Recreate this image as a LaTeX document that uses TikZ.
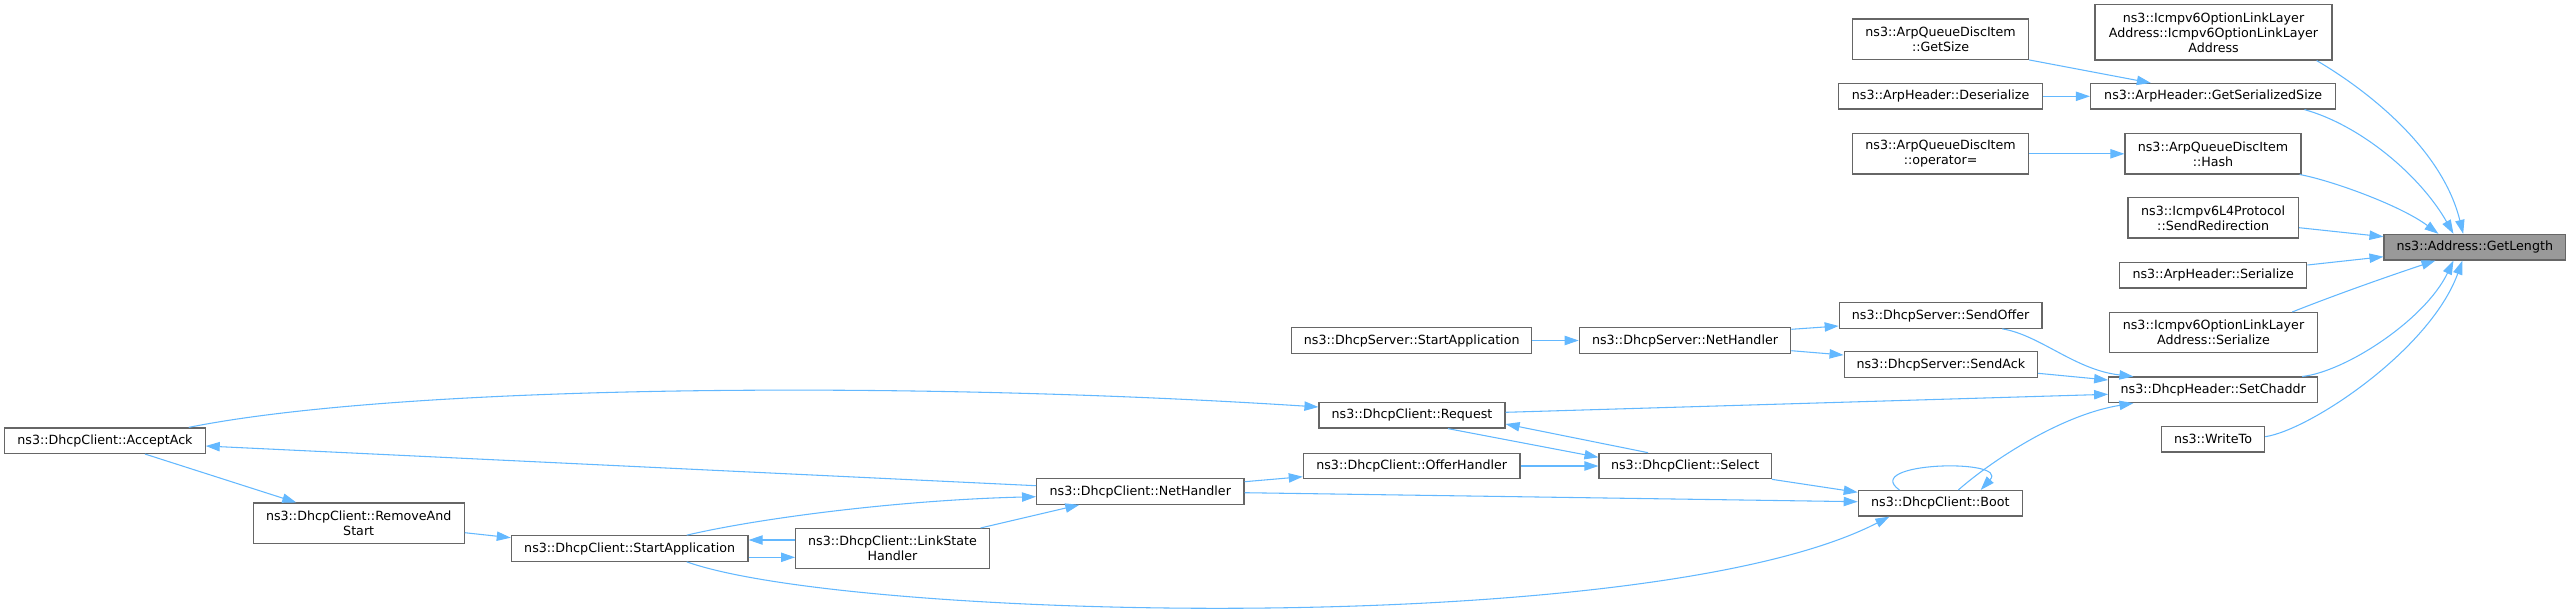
\documentclass[tikz,border=0pt]{standalone}
\usepackage{fontspec}
\setmainfont{DejaVu Sans}
\usetikzlibrary{arrows.meta,calc}
\definecolor{edgeblue}{HTML}{63B8FF}
\definecolor{nodeborder}{HTML}{666666}
\definecolor{nodegray}{HTML}{999999}
\begin{document}
\begin{tikzpicture}[x=0.75pt,y=-0.75pt,
  box/.style={draw=nodeborder,line width=0.9pt,fill=white,inner sep=0pt,align=center,
    font=\fontsize{9.5}{11.25}\selectfont,text=black},
  one/.style={box,minimum height=19.1pt},
  two/.style={box,minimum height=30.2pt},
  three/.style={box,minimum height=41.5pt},
  e/.style={draw=edgeblue,line width=0.8pt,-{Triangle[length=10.5pt,width=7pt]}}]
\useasboundingbox (0,0) rectangle (2567,611);
% nodes
\node[one,fill=nodegray,minimum width=136.1pt] (getlen) at (2474.8,247.2) {ns3::Address::GetLength};
\node[three,minimum width=177.75pt] (ctor) at (2213.5,32.3) {ns3::Icmpv6OptionLinkLayer\\Address::Icmpv6OptionLinkLayer\\Address};
\node[two,minimum width=132pt] (getsize) at (1940.6,39.2) {ns3::ArpQueueDiscItem\\::GetSize};
\node[one,minimum width=152.7pt] (deser) at (1940.6,96.3) {ns3::ArpHeader::Deserialize};
\node[one,minimum width=184pt] (gss) at (2213.2,96.3) {ns3::ArpHeader::GetSerializedSize};
\node[two,minimum width=132pt] (opeq) at (1940.6,153.8) {ns3::ArpQueueDiscItem\\::operator=};
\node[two,minimum width=132pt] (hash) at (2213,153.8) {ns3::ArpQueueDiscItem\\::Hash};
\node[two,minimum width=127.9pt] (sendredir) at (2213.2,217.8) {ns3::Icmpv6L4Protocol\\::SendRedirection};
\node[one,minimum width=140.5pt] (ahser) at (2213.2,275.3) {ns3::ArpHeader::Serialize};
\node[two,minimum width=155.6pt] (icser) at (2213.5,332.7) {ns3::Icmpv6OptionLinkLayer\\Address::Serialize};
\node[one,minimum width=156.75pt] (setch) at (2213.2,389.8) {ns3::DhcpHeader::SetChaddr};
\node[one,minimum width=77.4pt] (writeto) at (2213,439.2) {ns3::WriteTo};
\node[one,minimum width=152pt] (sendoffer) at (1940.6,315.5) {ns3::DhcpServer::SendOffer};
\node[one,minimum width=145pt] (sendack) at (1940.8,364.5) {ns3::DhcpServer::SendAck};
\node[one,minimum width=123pt] (boot) at (1940.3,503.3) {ns3::DhcpClient::Boot};
\node[one,minimum width=158.55pt] (snet) at (1685,340.5) {ns3::DhcpServer::NetHandler};
\node[one,minimum width=129.2pt] (select) at (1685.2,466) {ns3::DhcpClient::Select};
\node[one,minimum width=180pt] (sstart) at (1411.7,340.5) {ns3::DhcpServer::StartApplication};
\node[one,minimum width=139.5pt] (request) at (1412,415.3) {ns3::DhcpClient::Request};
\node[one,minimum width=162.5pt] (offer) at (1411.7,466) {ns3::DhcpClient::OfferHandler};
\node[one,minimum width=155.5pt] (cnet) at (1140.3,491.5) {ns3::DhcpClient::NetHandler};
\node[two,minimum width=145.2pt] (link) at (892.5,548.7) {ns3::DhcpClient::LinkState\\Handler};
\node[one,minimum width=177.5pt] (capp) at (629.7,548.5) {ns3::DhcpClient::StartApplication};
\node[two,minimum width=158.25pt] (remove) at (358.7,523.2) {ns3::DhcpClient::RemoveAnd\\Start};
\node[one,minimum width=150.2pt] (accept) at (105,440.7) {ns3::DhcpClient::AcceptAck};
% edges into GetLength
\draw[e] ($(ctor.south east)+(-16,0)$) .. controls (2350,80) and (2440,140) .. ($(getlen.north west)+(79.7,0)$);
\draw[e] ($(gss.south east)+(-32,0)$) .. controls (2360,125) and (2420,175) .. ($(getlen.north west)+(70,0)$);
\draw[e] ($(hash.south east)+(-2,0)$) .. controls (2330,180) and (2400,205) .. ($(getlen.north west)+(55,0)$);
\draw[e] ($(sendredir.east)+(0,9.9)$) -- ($(getlen.west)+(0,-10.5)$);
\draw[e] ($(ahser.east)+(0,-10.3)$) -- ($(getlen.west)+(0,9.5)$);
\draw[e] ($(icser.north east)+(-25.6,0)$) .. controls (2340,293) and (2395,274) .. ($(getlen.south west)+(52,0)$);
\draw[e] ($(setch.north east)+(-16.2,0)$) .. controls (2345,372) and (2425,320) .. ($(getlen.south west)+(70,0)$);
\draw[e] ($(writeto.east)+(0,-2.5)$) .. controls (2310,430) and (2430,350) .. ($(getlen.south west)+(79,0)$);
% upper group
\draw[e] (getsize.south east) -- ($(gss.north west)+(60.9,0)$);
\draw[e] (deser.east) -- (gss.west);
\draw[e] (opeq.east) -- (hash.west);
% SetChaddr callers
\draw[e] ($(sendoffer.south east)+(-40.3,0)$) .. controls (2040,335) and (2075,370) .. ($(setch.north west)+(25.3,0)$);
\draw[e] ($(sendack.east)+(0,8.8)$) -- ($(setch.west)+(0,-9.8)$);
\draw[e] ($(request.east)+(0,-3)$) -- ($(setch.west)+(0,4.5)$);
\draw[e] ($(boot.north)+(18,0)$) .. controls (1990,462) and (2060,415) .. ($(setch.south west)+(25.3,0)$);
% server
\draw[e] ($(snet.east)+(0,-11.2)$) -- ($(sendoffer.west)+(0,10.5)$);
\draw[e] ($(snet.east)+(0,10.2)$) -- ($(sendack.west)+(0,-9.5)$);
\draw[e] (sstart.east) -- (snet.west);
% boot callers
\draw[e] (select.south east) -- ($(boot.west)+(0,-11)$);
\draw[e] ($(cnet.east)+(0,1.2)$) -- ($(boot.west)+(0,-1.6)$);
\draw[e] ($(capp.south)+(57,0)$) .. controls (850,620) and (1650,640) .. ($(boot.south west)+(31.7,0)$);
\draw[e] ($(boot.north west)+(41.7,0)$) .. controls (1860,462) and (2010,458) .. ($(boot.north west)+(123,0)$);
% client
\draw[e] ($(request.south)+(36,0)$) -- ($(select.west)+(0,-8.7)$);
\draw[e] ($(select.north)+(-37.2,0)$) -- ($(request.east)+(0,8.7)$);
\draw[e] (offer.east) -- (select.west);
\draw[e] ($(cnet.east)+(0,-9.8)$) -- ($(offer.west)+(0,10.7)$);
\draw[e] ($(cnet.west)+(0,-5.8)$) -- ($(accept.east)+(0,5.3)$);
\draw[e] ($(capp.north)+(57,0)$) .. controls (760,518) and (900,500) .. ($(cnet.west)+(0,5.2)$);
\draw[e] ($(link.north east)+(-9.3,0)$) -- ($(cnet.south west)+(43.3,0)$);
\draw[e] ($(capp.east)+(0,8.8)$) -- ($(link.west)+(0,8.6)$);
\draw[e] ($(link.west)+(0,-8.7)$) -- ($(capp.east)+(0,-8.5)$);
\draw[e] ($(accept.north east)+(-17,0)$) .. controls (400,385) and (900,380) .. ($(request.west)+(0,-8.3)$);
\draw[e] ($(accept.south)+(40,0)$) -- ($(remove.north west)+(43.7,0)$);
\draw[e] ($(remove.east)+(0,9.5)$) -- ($(capp.west)+(0,-10.8)$);
\end{tikzpicture}
\end{document}
